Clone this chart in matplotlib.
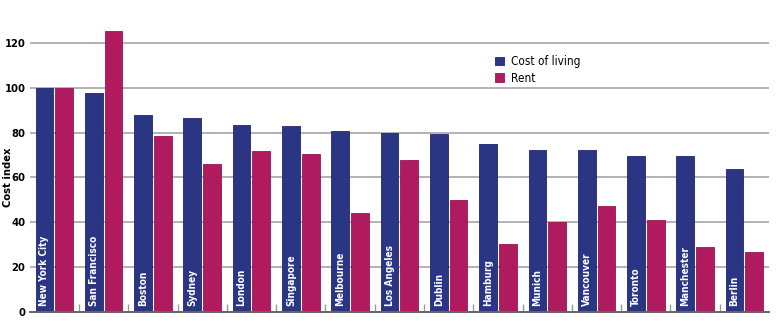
import numpy as np
import matplotlib.pyplot as plt

cities = ['New York City', 'San Francisco', 'Boston', 'Sydney', 'London', 'Singapore',
          'Melbourne', 'Los Angeles', 'Dublin', 'Hamburg', 'Munich', 'Vancouver',
          'Toronto', 'Manchester', 'Berlin']
cost_of_living = [100, 97.7, 87.9, 86.7, 83.4, 82.8, 80.9, 79.9, 79.3, 74.8, 72.1, 72.1, 69.7, 69.6, 63.9]
rent = [100, 125.5, 78.4, 66.2, 71.8, 70.5, 44.3, 67.8, 50.0, 30.2, 40.1, 47.4, 41.0, 28.9, 26.9]
yticks = [0, 20, 40, 60, 80, 100, 120]

plt.rcParams['font.family'] = ['DejaVu Sans']
plt.rcParams['font.stretch'] = 'condensed'

blue = '#2a3583'
pink = '#b01a5e'

fig = plt.figure(figsize=(7.8, 3.21), dpi=100)
ax = fig.add_axes([0.038, 0.028, 0.948, 0.915])

x = np.arange(len(cities))
w = 0.36
ax.bar(x - 0.2, cost_of_living, w, color=blue, edgecolor='#1f2870', linewidth=0.6,
       label='Cost of living', zorder=3)
ax.bar(x + 0.2, rent, w, color=pink, edgecolor='#9a1552', linewidth=0.6,
       label='Rent', zorder=3)

for xi, name in zip(x, cities):
    ax.text(xi - 0.2, 2.8, name, rotation=90, ha='center', va='bottom',
            color='white', fontsize=7.2, fontweight='bold', fontstretch='condensed', zorder=4)

ax.set_xlim(-0.5, len(cities) - 0.5)
ax.set_ylim(0, 131)
ax.set_yticks(yticks)
ax.set_yticklabels([str(t) for t in yticks], fontsize=8, fontweight='bold', fontstretch='condensed')
ax.tick_params(axis='y', length=0, pad=3)
ax.set_xticks(x[1:] - 0.5)
ax.set_xticklabels([])
ax.tick_params(axis='x', direction='in', length=6, color='#999999', width=1)
ax.yaxis.grid(True, color='#a5a5a5', linewidth=1.2, zorder=0)
ax.set_axisbelow(True)
for s in ['top', 'right', 'left']:
    ax.spines[s].set_visible(False)
ax.spines['bottom'].set_color('#666666')
ax.spines['bottom'].set_linewidth(1.4)
ax.spines['bottom'].set_zorder(5)

ax.set_ylabel('Cost index', fontsize=8, fontweight='bold', fontstretch='condensed')
ax.yaxis.set_label_coords(-0.0225, 0.46)

ax.legend(loc='upper left', bbox_to_anchor=(0.63, 0.875), frameon=False,
          prop={'size': 8.5, 'stretch': 'condensed'},
          handlelength=0.7, handleheight=0.7, handletextpad=0.6, labelspacing=0.3,
          borderaxespad=0, borderpad=0)

fig.savefig('out.png', dpi=100)
